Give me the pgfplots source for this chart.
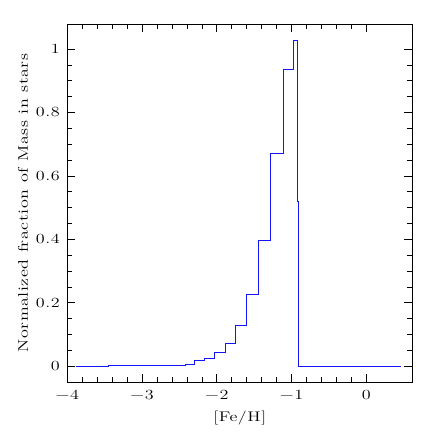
\documentclass[border=0pt]{standalone}
\usepackage{fontspec}
\setmainfont{Latin Modern Roman}[FakeStretch=1.3, LetterSpace=4]
\usepackage{pgfplots}
\pgfplotsset{compat=1.18}
\definecolor{histblue}{RGB}{20,20,250}
\begin{document}
\begin{tikzpicture}
% frame of the page, matching the 436x436 reference
\path (-67.3bp,-53.7bp) rectangle (368.7bp,382.3bp);
\begin{axis}[
    at={(0,0)}, anchor=south west,
    scale only axis,
    width=345bp, height=358.3bp,
    xmin=-4, xmax=0.615,
    ymin=-0.051, ymax=1.079,
    axis line style={line width=0.9pt},
    tick align=inside,
    major tick length=8bp,
    minor tick length=5bp,
    every tick/.style={black, line width=0.7pt},
    xtick={-4,-3,-2,-1,0},
    xticklabels={−4,−3,−2,−1,0},
    minor x tick num=4,
    ytick={0,0.2,0.4,0.6,0.8,1},
    yticklabels={0,0.2,0.4,0.6,0.8,1},
    minor y tick num=3,
    tick label style={font=\fontsize{14}{16}\selectfont},
    xticklabel style={yshift=-4bp},
    yticklabel style={xshift=-4bp},
    label style={font=\fontsize{14}{16}\selectfont},
    xlabel={[Fe/H]},
    xlabel style={yshift=-5bp},
    ylabel={Normalized fraction of Mass in stars},
    ylabel style={yshift=1bp},
]
\addplot[const plot mark left, draw=histblue, line width=0.8pt] coordinates {
    (-3.890, 0)
    (-3.450, 0.001)
    (-2.830, 0.002)
    (-2.630, 0.003)
    (-2.425, 0.006)
    (-2.305, 0.017)
    (-2.162, 0.025)
    (-2.028, 0.044)
    (-1.886, 0.073)
    (-1.753, 0.128)
    (-1.600, 0.227)
    (-1.445, 0.397)
    (-1.284, 0.672)
    (-1.110, 0.935)
    (-0.977, 1.028)
    (-0.923, 0.520)
    (-0.904, 0)
    (0.460, 0)
};
\end{axis}
\end{tikzpicture}
\end{document}
